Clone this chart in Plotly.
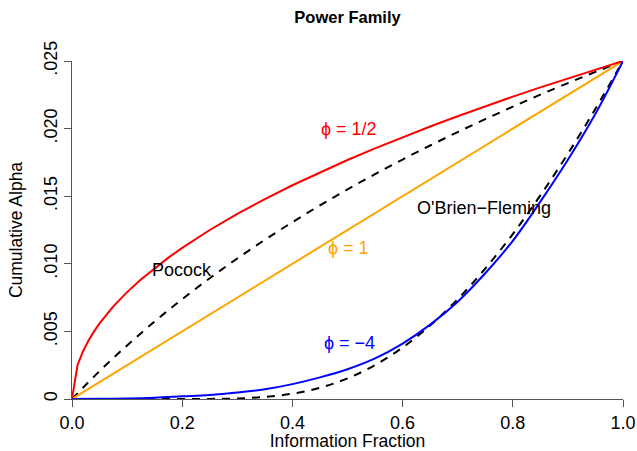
import plotly.graph_objects as go

# Information fraction grids
t_red = [0, 0.01, 0.02, 0.03, 0.04, 0.05, 0.075, 0.1, 0.125, 0.15, 0.175, 0.2, 0.25, 0.3, 0.35, 0.4,
         0.45, 0.5, 0.55, 0.6, 0.65, 0.7, 0.75, 0.8, 0.85, 0.9, 0.95, 1.0]
alpha_half = [0, 0.0025, 0.003536, 0.00433, 0.005, 0.00559, 0.006847, 0.007906, 0.008839, 0.009682,
              0.010458, 0.01118, 0.0125, 0.013693, 0.01479, 0.015811, 0.016771, 0.017678, 0.01854,
              0.019365, 0.020156, 0.020917, 0.021651, 0.022361, 0.023049, 0.023717, 0.024367, 0.025]

t_lin = [0, 1.0]
alpha_one = [0, 0.025]

t_grid = [0, 0.05, 0.1, 0.15, 0.2, 0.25, 0.3, 0.35, 0.4, 0.45, 0.5, 0.55, 0.6, 0.65, 0.7,
          0.75, 0.8, 0.85, 0.9, 0.95, 1.0]
alpha_m4 = [0, 0.00001, 0.00004, 0.0001, 0.0002, 0.0003, 0.00048, 0.00072, 0.0011, 0.0016, 0.0022,
            0.003, 0.0041, 0.0055, 0.0072, 0.0093, 0.0117, 0.0146, 0.0177, 0.0211, 0.025]
alpha_pocock = [0, 0.002061, 0.003964, 0.005733, 0.007385, 0.008934, 0.010393, 0.011772, 0.013078,
                0.01432, 0.015503, 0.016632, 0.017713, 0.018749, 0.019743, 0.0207, 0.021621, 0.02251,
                0.023368, 0.024197, 0.025]
alpha_obf = [0, 0, 0, 0.00000001, 0.00000054, 0.0000074, 0.000043, 0.000151, 0.000394, 0.000834,
             0.001526, 0.002508, 0.003808, 0.005434, 0.00738, 0.00965, 0.0122, 0.01506, 0.01814,
             0.02147, 0.025]

y_ticks = [0, 0.005, 0.010, 0.015, 0.020, 0.025]
y_tick_labels = ["0", ".005", ".010", ".015", ".020", ".025"]
x_ticks = [0, 0.2, 0.4, 0.6, 0.8, 1.0]
x_tick_labels = ["0.0", "0.2", "0.4", "0.6", "0.8", "1.0"]

labels = ["ϕ = 1/2", "ϕ = 1", "ϕ = −4", "Pocock", "O'Brien−Fleming"]
label_x = [0.503, 0.501, 0.504, 0.20, 0.748]
label_y = [0.0200, 0.01117, 0.00414, 0.00954, 0.01413]
label_colors = ["red", "orange", "blue", "black", "black"]

FONT = "Liberation Sans, Arial, Helvetica, sans-serif"

fig = go.Figure()
fig.add_trace(go.Scatter(x=t_grid, y=alpha_pocock, mode="lines",
                         line=dict(color="black", width=2, dash="8px,7px", shape="spline")))
fig.add_trace(go.Scatter(x=t_grid, y=alpha_obf, mode="lines",
                         line=dict(color="black", width=2, dash="8px,7px", shape="spline")))
fig.add_trace(go.Scatter(x=t_lin, y=alpha_one, mode="lines",
                         line=dict(color="orange", width=2)))
fig.add_trace(go.Scatter(x=t_red, y=alpha_half, mode="lines",
                         line=dict(color="red", width=2)))
fig.add_trace(go.Scatter(x=t_grid, y=alpha_m4, mode="lines",
                         line=dict(color="blue", width=2, shape="spline")))

for txt, x, y, c in zip(labels, label_x, label_y, label_colors):
    fig.add_annotation(x=x, y=y, text=txt, showarrow=False,
                       font=dict(family=FONT, size=18, color=c))

fig.update_layout(
    width=637, height=451,
    margin=dict(l=72, r=14, t=61, b=52, autoexpand=False),
    paper_bgcolor="white", plot_bgcolor="white",
    showlegend=False,
    font=dict(family=FONT, size=18, color="black"),
    title=dict(text="<b>Power Family</b>", x=0.5, xref="paper", y=0.962, yref="container",
               xanchor="center", yanchor="middle", font=dict(size=16.5, family=FONT, color="black")),
)
fig.update_xaxes(range=[0, 1], tickvals=x_ticks, ticktext=x_tick_labels, automargin=False,
                 showgrid=False, zeroline=False, showline=True, linecolor="#555555", linewidth=1,
                 ticks="outside", ticklen=7, tickcolor="#555555", tickfont=dict(size=18),
                 title=dict(text="Information Fraction", standoff=2, font=dict(size=17.5)))
fig.update_yaxes(range=[0, 0.025], tickvals=y_ticks, ticktext=y_tick_labels, tickangle=-90,
                 automargin=False,
                 showgrid=False, zeroline=False, showline=True, linecolor="#555555", linewidth=1,
                 ticks="outside", ticklen=7, tickcolor="#555555", tickfont=dict(size=18),
                 title=dict(text="Cumulative Alpha", standoff=13, font=dict(size=17.5)))

fig.write_html("out.html", config={"displayModeBar": False},
               post_script="document.body.style.margin='0';document.body.style.overflow='hidden';")
